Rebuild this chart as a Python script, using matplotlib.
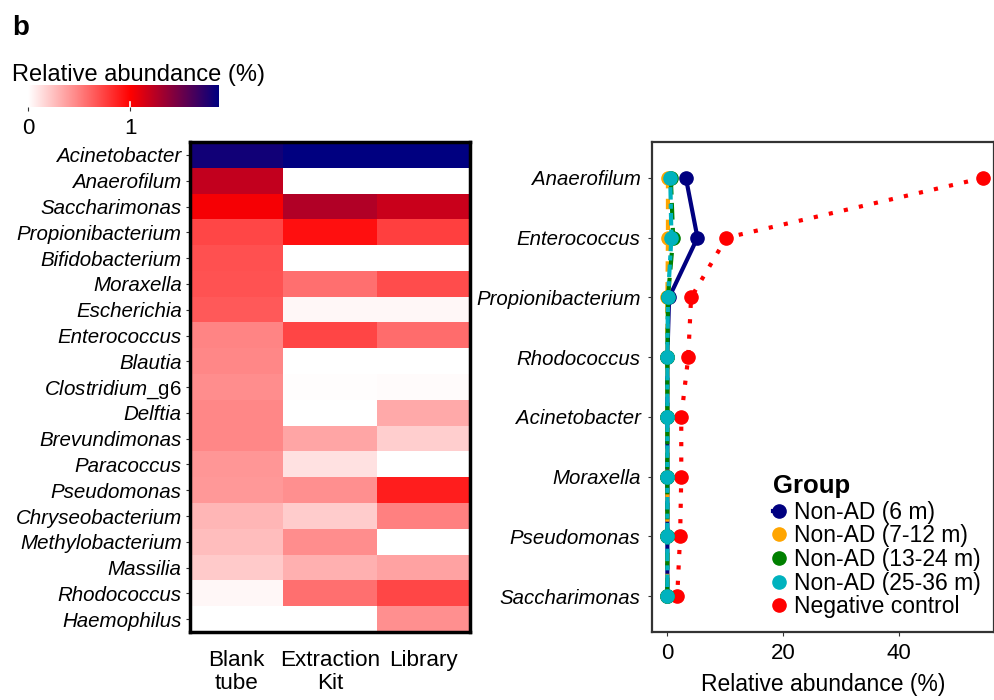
import matplotlib.pyplot as plt
import numpy as np
from matplotlib.colors import LinearSegmentedColormap

plt.rcParams['font.family'] = ['Liberation Sans', 'DejaVu Sans']
plt.rcParams['mathtext.fontset'] = 'custom'
plt.rcParams['mathtext.it'] = 'Liberation Sans:italic'
plt.rcParams['mathtext.rm'] = 'Liberation Sans'

# heatmap data (colour-scale units)
taxa = ['Acinetobacter', 'Anaerofilum', 'Saccharimonas', 'Propionibacterium',
        'Bifidobacterium', 'Moraxella', 'Escherichia', 'Enterococcus', 'Blautia',
        'Clostridium_g6', 'Delftia', 'Brevundimonas', 'Paracoccus', 'Pseudomonas',
        'Chryseobacterium', 'Methylobacterium', 'Massilia', 'Rhodococcus', 'Haemophilus']
samples = ['Blank\ntube', 'Extraction\nKit', 'Library']
blank_tube = [1.80, 1.20, 1.03, 0.72, 0.69, 0.68, 0.65, 0.48, 0.47, 0.45,
              0.47, 0.47, 0.41, 0.40, 0.29, 0.26, 0.21, 0.03, 0.00]
extraction_kit = [1.86, 0.00, 1.26, 0.94, 0.00, 0.56, 0.03, 0.73, 0.00, 0.01,
                  0.00, 0.35, 0.12, 0.44, 0.20, 0.45, 0.31, 0.56, 0.00]
library = [1.86, 0.00, 1.18, 0.75, 0.00, 0.70, 0.03, 0.58, 0.00, 0.02,
           0.34, 0.19, 0.00, 0.88, 0.50, 0.00, 0.37, 0.72, 0.44]
cbar_max = 1.86

# line panel data
genera = ['Anaerofilum', 'Enterococcus', 'Propionibacterium', 'Rhodococcus',
          'Acinetobacter', 'Moraxella', 'Pseudomonas', 'Saccharimonas']
groups = ['Non-AD (6 m)', 'Non-AD (7-12 m)', 'Non-AD (13-24 m)',
          'Non-AD (25-36 m)', 'Negative control']
nonad_6 = [3.2, 5.2, 0.3, 0.0, 0.0, 0.0, 0.0, 0.0]
nonad_7_12 = [0.1, 0.1, 0.0, 0.0, 0.0, 0.0, 0.0, 0.0]
nonad_13_24 = [0.6, 1.0, 0.1, 0.0, 0.0, 0.0, 0.0, 0.0]
nonad_25_36 = [0.5, 0.7, 0.1, 0.0, 0.0, 0.0, 0.0, 0.0]
neg_control = [54.5, 10.2, 4.1, 3.6, 2.4, 2.4, 2.2, 1.7]

fig = plt.figure(figsize=(9.95, 7), dpi=100)
fig.text(0.012, 0.96, 'b', fontsize=20, fontweight='bold', va='center')

# heatmap
cmap = LinearSegmentedColormap.from_list('wrn', [(0, 'white'), (1 / cbar_max, 'red'), (1, 'navy')])
mat = np.array([blank_tube, extraction_kit, library]).T
ax1 = fig.add_axes([0.191, 0.097, 0.281, 0.700])
ax1.imshow(mat, cmap=cmap, vmin=0, vmax=cbar_max, aspect='auto', interpolation='nearest')
ax1.set_xticks(range(len(samples)))
ax1.set_xticklabels(samples, fontsize=16.2, va='top', linespacing=1.1)
ax1.set_yticks(range(len(taxa)))
labels = []
for t in taxa:
    if t == 'Clostridium_g6':
        labels.append(r'$\it{Clostridium}$_g6')
    else:
        labels.append(t)
ax1.set_yticklabels(labels, fontsize=14.8)
for lab, t in zip(ax1.get_yticklabels(), taxa):
    if t != 'Clostridium_g6':
        lab.set_fontstyle('italic')
ax1.tick_params(axis='y', length=3, color='#333333', pad=3)
ax1.tick_params(axis='x', length=0, pad=13)
for s in ax1.spines.values():
    s.set_linewidth(2.5)
    s.set_color('black')

# colorbar
cax = fig.add_axes([0.028, 0.847, 0.191, 0.031])
grad = np.linspace(0, cbar_max, 256).reshape(1, -1)
cax.imshow(grad, cmap=cmap, aspect='auto', extent=[0, cbar_max, 0, 1])
cax.set_xlim(0, cbar_max)
cax.set_yticks([])
cax.set_xticks([0, 1])
cax.set_xticklabels(['0', '1'], fontsize=16)
cax.tick_params(axis='x', length=3, color='#333333', pad=5)
cax.plot([1, 1], [0, 0.25], color='white', lw=1.2)
for s in cax.spines.values():
    s.set_visible(False)
fig.text(0.012, 0.893, 'Relative abundance (%)', fontsize=17, va='center')

# line panel
ax2 = fig.add_axes([0.655, 0.097, 0.344, 0.700])
y = np.arange(len(genera))
series = [nonad_6, nonad_7_12, nonad_13_24, nonad_25_36, neg_control]
colors = ['#000080', '#FFA500', '#008000', '#00B2BE', '#FF0000']
styles = ['-', (0, (2.5, 2.5)), (0, (4, 2)), (0, (1.2, 1, 3, 1)), (0, (1, 2.7))]
zs = [3, 4, 5, 6, 2]
for vals, c, ls, g, z in zip(series, colors, styles, groups, zs):
    ax2.plot(vals, y, color=c, linestyle=ls, lw=3, marker='o', markersize=9.5,
             label=g, zorder=z)
ax2.set_ylim(len(genera) - 0.4, -0.6)
ax2.set_xlim(-2.7, 56.4)
ax2.set_yticks(y)
ax2.set_yticklabels(genera, fontsize=14.7, fontstyle='italic')
ax2.set_xticks([0, 20, 40])
ax2.set_xticklabels(['0', '20', '40'], fontsize=16)
ax2.set_xlabel('Relative abundance (%)', fontsize=16.5, labelpad=6)
ax2.tick_params(length=3, color='#333333', pad=5)
for s in ax2.spines.values():
    s.set_linewidth(1.6)
    s.set_color('#333333')
leg = ax2.legend(loc='lower right', bbox_to_anchor=(1.0, 0.0), frameon=False,
                 fontsize=16.5, title='Group', handlelength=0.5, handletextpad=0.4,
                 labelspacing=0.03, borderaxespad=0.2)
leg.get_title().set_fontweight('bold')
leg.get_title().set_fontsize(18.5)
leg._legend_box.align = 'left'
leg._legend_box.sep = 2

fig.savefig('out.png', dpi=100)
